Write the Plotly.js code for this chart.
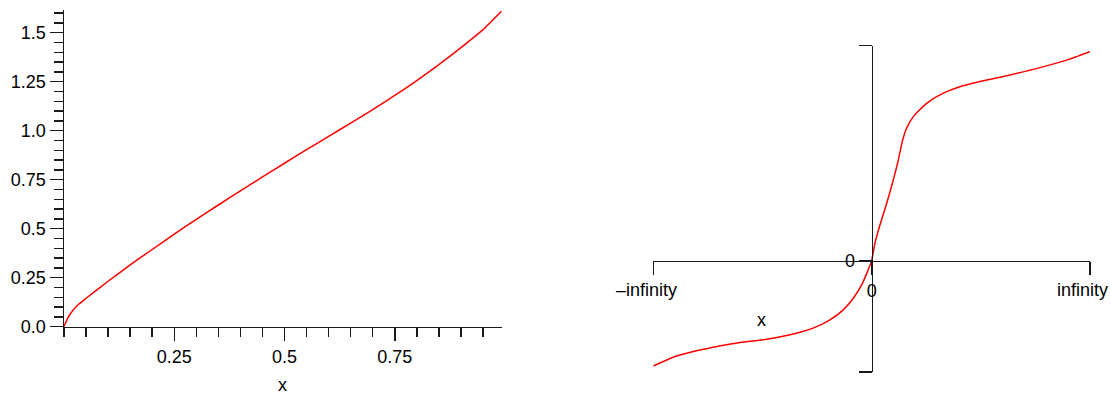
<!DOCTYPE html>
<html>
<head>
<meta charset="utf-8">
<script src="https://cdn.plot.ly/plotly-3.0.1.min.js"></script>
<style>html,body{margin:0;padding:0;background:#fff;}#chart{width:1111px;height:399px;}</style>
</head>
<body>
<div id="chart"></div>
<script>
// Left panel: curve
const leftX = [0, 0.009, 0.02, 0.035, 0.05, 0.10, 0.15, 0.20, 0.25, 0.30, 0.35, 0.40, 0.45, 0.50, 0.55, 0.60, 0.65, 0.70, 0.75, 0.80, 0.85, 0.90, 0.95, 0.9925];
const leftY = [0, 0.046, 0.083, 0.118, 0.145, 0.232, 0.315, 0.394, 0.472, 0.548, 0.621, 0.693, 0.764, 0.834, 0.903, 0.971, 1.039, 1.108, 1.180, 1.256, 1.337, 1.424, 1.516, 1.611];
const leftYTicks = [0, 0.25, 0.5, 0.75, 1.0, 1.25, 1.5];
const leftYTickText = ['0.0', '0.25', '0.5', '0.75', '1.0', '1.25', '1.5'];
const leftXTicks = [0.25, 0.5, 0.75];
const leftXTickText = ['0.25', '0.5', '0.75'];

// Right panel: infinity-plot curve (compactified coordinates)
const rightX = [-1.000, -0.909, -0.817, -0.726, -0.603, -0.481, -0.374, -0.268, -0.191, -0.130, -0.084, -0.046, -0.016, 0,
                0.015, 0.038, 0.069, 0.099, 0.122, 0.142, 0.160, 0.191, 0.252, 0.328, 0.404, 0.496, 0.634, 0.771, 0.893, 1.000];
const rightY = [-0.490, -0.449, -0.423, -0.403, -0.381, -0.366, -0.345, -0.314, -0.276, -0.229, -0.175, -0.113, -0.043, 0,
                0.081, 0.166, 0.267, 0.375, 0.468, 0.561, 0.616, 0.670, 0.732, 0.779, 0.809, 0.833, 0.864, 0.898, 0.933, 0.972];
const rightXTicks = [-1, 0, 1];
const rightXTickText = ['', '0', ''];
const rightXEndLabels = ['\u2013infinity', 'infinity'];
const rightYTicks = [-0.518, 0, 1];
const rightYTickText = ['', '0', ''];

const W = 1111, H = 399;
const font = {family: 'Liberation Sans, Arial, sans-serif', size: 18, color: '#000'};
const axisCol = '#1a1a1a';

const traces = [
  {x: leftX, y: leftY, xaxis: 'x', yaxis: 'y', type: 'scatter', mode: 'lines',
   line: {color: '#ff0000', width: 1.5, shape: 'spline', smoothing: 0.5}, hoverinfo: 'skip'},
  {x: rightX, y: rightY, xaxis: 'x2', yaxis: 'y2', type: 'scatter', mode: 'lines',
   line: {color: '#ff0000', width: 1.5, shape: 'spline', smoothing: 0.6}, hoverinfo: 'skip'}
];

const layout = {
  width: W, height: H,
  margin: {l: 0, r: 0, t: 0, b: 0},
  paper_bgcolor: '#fff', plot_bgcolor: 'rgba(0,0,0,0)',
  showlegend: false,
  font: font,
  xaxis: {
    domain: [64 / W, 501.7 / W], range: [0, 0.9925], anchor: 'y',
    showline: true, linecolor: axisCol, linewidth: 1.5, showgrid: false, zeroline: false,
    ticks: 'outside', ticklen: 13, tickwidth: 1.5, tickcolor: axisCol,
    tickmode: 'array', tickvals: leftXTicks, ticktext: leftXTickText, tickfont: font,
    minor: {ticks: 'outside', ticklen: 9, tickwidth: 1.5, tickcolor: axisCol, tick0: 0, dtick: 0.05, showgrid: false}
  },
  yaxis: {
    domain: [1 - 326.7 / H, 1 - 10.2 / H], range: [0, 1.615], anchor: 'x',
    showline: true, linecolor: axisCol, linewidth: 1.5, showgrid: false, zeroline: false,
    ticks: 'outside', ticklen: 13, tickwidth: 1.5, tickcolor: axisCol,
    tickmode: 'array', tickvals: leftYTicks, ticktext: leftYTickText, tickfont: font,
    minor: {ticks: 'outside', ticklen: 9, tickwidth: 1.5, tickcolor: axisCol, tick0: 0, dtick: 0.05, showgrid: false}
  },
  xaxis2: {
    domain: [653.3 / W, 1090 / W], range: [-1, 1], anchor: 'free', position: 1 - 260.7 / H,
    showline: true, linecolor: axisCol, linewidth: 1.5, showgrid: false, zeroline: false,
    ticks: 'outside', ticklen: 13, tickwidth: 1.5, tickcolor: axisCol,
    tickmode: 'array', tickvals: rightXTicks, ticktext: rightXTickText, tickfont: font
  },
  yaxis2: {
    domain: [1 - 372 / H, 1 - 45.7 / H], range: [-0.518, 1], anchor: 'free', position: 871.7 / W,
    showline: true, linecolor: axisCol, linewidth: 1.5, showgrid: false, zeroline: false,
    ticks: 'outside', ticklen: 13, tickwidth: 1.5, tickcolor: axisCol,
    tickmode: 'array', tickvals: rightYTicks, ticktext: rightYTickText, tickfont: font
  },
  annotations: [
    {text: 'x', xref: 'paper', yref: 'paper', x: 282.7 / W, y: 1 - 385 / H, xanchor: 'center', yanchor: 'middle', showarrow: false, font: font},
    {text: 'x', xref: 'paper', yref: 'paper', x: 761.7 / W, y: 1 - 320 / H, xanchor: 'center', yanchor: 'middle', showarrow: false, font: font},
    {text: rightXEndLabels[0], xref: 'paper', yref: 'paper', x: 646.7 / W, y: 1 - 290 / H, xanchor: 'center', yanchor: 'middle', showarrow: false, font: font},
    {text: rightXEndLabels[1], xref: 'paper', yref: 'paper', x: 1109.5 / W, y: 1 - 290 / H, xanchor: 'right', yanchor: 'middle', showarrow: false, font: font}
  ]
};

Plotly.newPlot('chart', traces, layout, {staticPlot: true, displayModeBar: false});
</script>
</body>
</html>
